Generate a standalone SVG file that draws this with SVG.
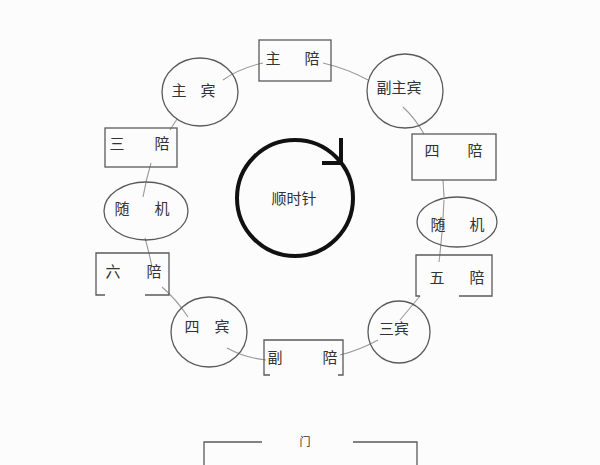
<svg xmlns="http://www.w3.org/2000/svg" width="600" height="465" viewBox="0 0 600 465">
<style>
.bg{fill:#fcfcfc}
.shape{fill:none;stroke:#5a5a5a;stroke-width:1.3}
.con{fill:none;stroke:#9a9a9a;stroke-width:1.1}
.t{font-family:"Noto Sans CJK SC","Noto Sans",sans-serif;font-size:15px;fill:#333;text-anchor:middle;dominant-baseline:central}
.big{fill:none;stroke:#111;stroke-width:4}
</style>
<rect class="bg" x="0" y="0" width="600" height="465"/>
<g id="connectors">
<path class="con" d="M223,80 Q240,68 263,63"/>
<path class="con" d="M323,63 Q348,69 368,80"/>
<path class="con" d="M403,107 Q415,118 424,134"/>
<path class="con" d="M443,180 L444,197"/>
<path class="con" d="M444,200 Q443,230 439,262"/>
<path class="con" d="M420,296 Q410,308 400,320"/>
<path class="con" d="M378,340 Q360,350 340,355"/>
<path class="con" d="M227,348 Q245,358 266,360"/>
<path class="con" d="M162,287 Q177,300 188,317"/>
<path class="con" d="M145,238 Q149,252 152,267"/>
<path class="con" d="M151,163 Q146,180 143,197"/>
<path class="con" d="M177,119 L170,130"/>
</g>
<g id="zhupei">
<rect class="shape" x="259" y="40" width="72" height="41"/>
<text class="t" x="273" y="57">主</text>
<text class="t" x="312" y="57">陪</text>
</g>
<g id="zhubin">
<ellipse class="shape" cx="200" cy="92" rx="38" ry="34"/>
<text class="t" x="179" y="89">主</text>
<text class="t" x="208" y="89">宾</text>
</g>
<g id="fuzhubin">
<ellipse class="shape" cx="405" cy="91" rx="38" ry="37"/>
<text class="t" x="399" y="86">副主宾</text>
</g>
<g id="sanpei">
<rect class="shape" x="105" y="128" width="72" height="39"/>
<text class="t" x="117" y="142">三</text>
<text class="t" x="162" y="142">陪</text>
</g>
<g id="sipei">
<rect class="shape" x="412" y="134" width="84" height="46"/>
<text class="t" x="432" y="149">四</text>
<text class="t" x="475" y="149">陪</text>
</g>
<g id="suiji-left">
<ellipse class="shape" cx="146" cy="211" rx="42" ry="29"/>
<text class="t" x="122" y="207">随</text>
<text class="t" x="162" y="207">机</text>
</g>
<g id="suiji-right">
<ellipse class="shape" cx="457" cy="222" rx="40" ry="25"/>
<text class="t" x="438" y="223">随</text>
<text class="t" x="477" y="223">机</text>
</g>
<g id="liupei">
<path class="shape" d="M105,295 L96,295 L96,253 L169,253 L169,295 L145,295"/>
<text class="t" x="113" y="270">六</text>
<text class="t" x="154" y="270">陪</text>
</g>
<g id="wupei">
<path class="shape" d="M420,296 L416,296 L416,255 L492,255 L492,296 L459,296"/>
<text class="t" x="437" y="276">五</text>
<text class="t" x="477" y="276">陪</text>
</g>
<g id="sibin">
<ellipse class="shape" cx="209" cy="332" rx="38" ry="35"/>
<text class="t" x="192" y="325">四</text>
<text class="t" x="222" y="325">宾</text>
</g>
<g id="fupei">
<path class="shape" d="M270,375 L264,375 L264,340 L343,340 L343,375 L338,375"/>
<text class="t" x="275" y="356">副</text>
<text class="t" x="330" y="356">陪</text>
</g>
<g id="sanbin">
<ellipse class="shape" cx="399" cy="332" rx="31" ry="31"/>
<text class="t" x="394" y="327">三宾</text>
</g>
<g id="clockwise">
<circle class="big" cx="295" cy="198" r="58"/>
<path class="big" d="M341,138 L341,163 L322,163"/>
<text class="t" x="294" y="197">顺时针</text>
</g>
<g id="door">
<path class="shape" d="M204,465 L204,442 L262,442"/>
<path class="shape" d="M353,442 L417,442 L417,465"/>
<text class="t" x="305" y="441" style="font-size:11px">门</text>
</g>
</svg>
